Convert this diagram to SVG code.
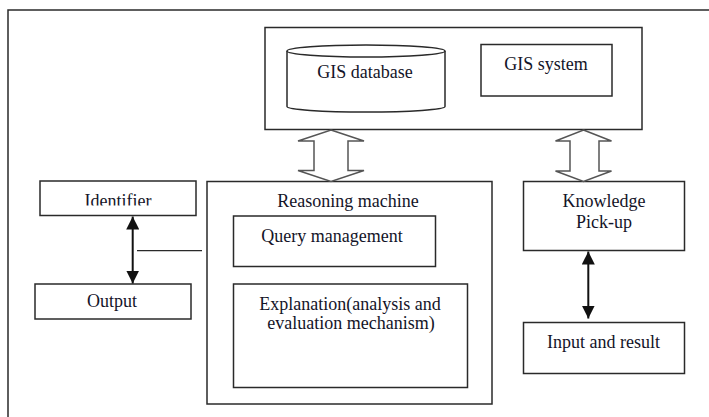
<svg xmlns="http://www.w3.org/2000/svg" width="709" height="417" viewBox="0 0 709 417">
<defs>
<style>
.box{fill:#fff;stroke:#2a2a2a;stroke-width:1.5}
.frame{fill:none;stroke:#2a2a2a;stroke-width:1.5}
.t{font-family:"Liberation Serif","Times New Roman",serif;font-size:18px;fill:#141428;text-anchor:middle}
.hollow{fill:#fff;stroke:#555;stroke-width:1.5;stroke-linejoin:miter}
.conn{fill:none;stroke:#111;stroke-width:2}
.thin{fill:none;stroke:#2a2a2a;stroke-width:1.2}
</style>
<marker id="ah" viewBox="0 0 12 12" refX="12" refY="6" markerWidth="13" markerHeight="13" markerUnits="userSpaceOnUse" orient="auto-start-reverse">
<path d="M0,0 L12,6 L0,12 z" fill="#111"/>
</marker>
<clipPath id="idclip"><rect x="40" y="181" width="156" height="24.5"/></clipPath>
</defs>
<rect width="709" height="417" fill="#fff"/>
<rect class="frame" x="8" y="10" width="720" height="430"/>

<g id="gis-top">
<rect class="box" x="265" y="27.5" width="377" height="102"/>
</g>
<g id="gis-database">
<path class="box" d="M287,51 L287,106.5 A79,5.5 0 0 0 445,106.5 L445,51"/>
<ellipse class="box" cx="366" cy="51" rx="79" ry="6"/>
<text class="t" x="365" y="78">GIS database</text>
</g>
<g id="gis-system">
<rect class="box" x="481" y="44.5" width="131" height="51.5"/>
<text class="t" x="546" y="70">GIS system</text>
</g>

<g id="reasoning">
<rect class="box" x="207" y="181.5" width="285" height="222.5"/>
<text class="t" x="348" y="207">Reasoning machine</text>
</g>
<g id="query">
<rect class="box" x="233.5" y="216" width="202" height="50.5"/>
<text class="t" x="332" y="242">Query management</text>
</g>
<g id="explanation">
<rect class="box" x="233.5" y="284" width="234" height="103.5"/>
<text class="t" x="350" y="310">Explanation(analysis and</text>
<text class="t" x="351" y="328.5">evaluation mechanism)</text>
</g>

<g id="identifier">
<rect class="box" x="40" y="181" width="156" height="34.5"/>
<text class="t" x="118" y="206.5" clip-path="url(#idclip)">Identifier</text>
</g>
<g id="output">
<rect class="box" x="35" y="284" width="156" height="35"/>
<text class="t" x="112" y="307">Output</text>
</g>

<g id="knowledge">
<rect class="box" x="523.5" y="181.5" width="161" height="69"/>
<text class="t" x="604" y="207">Knowledge</text>
<text class="t" x="604" y="227.5">Pick-up</text>
</g>
<g id="input-result">
<rect class="box" x="523.5" y="322.5" width="161" height="51"/>
<text class="t" x="603.5" y="347.5">Input and result</text>
</g>

<g id="connectors">
<path class="hollow" d="M331,130 L364,141 L348,141 L348,170.5 L364,170.5 L331,181.5 L298,170.5 L314,170.5 L314,141 L298,141 Z"/>
<path class="hollow" d="M583.5,130 L611.5,141 L599,141 L599,171 L611.5,171 L583.5,181.5 L555.5,171 L570,171 L570,141 L555.5,141 Z"/>
<line class="conn" x1="132.7" y1="216.5" x2="132.7" y2="283.5" marker-start="url(#ah)" marker-end="url(#ah)"/>
<line class="thin" x1="137" y1="250.7" x2="202" y2="250.7"/>
<line class="conn" x1="588.3" y1="251.5" x2="588.3" y2="318.5" marker-start="url(#ah)" marker-end="url(#ah)"/>
</g>
</svg>
